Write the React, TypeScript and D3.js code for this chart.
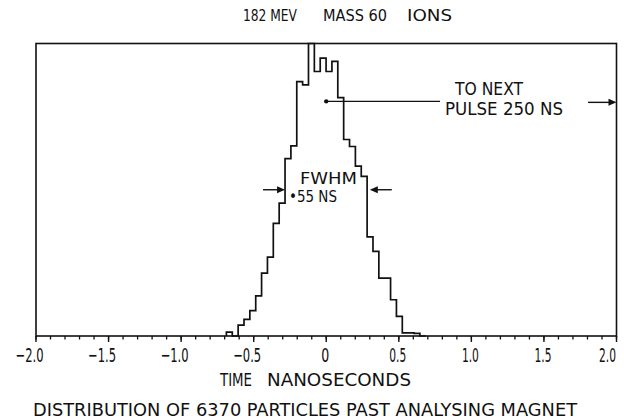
import React from "react";
import * as d3 from "d3";

// ---- data ----
const TITLE_PARTS = ["182 MEV", "MASS 60", "IONS"];
const X_LABEL_PARTS = ["TIME", "NANOSECONDS"];
const CAPTION = "DISTRIBUTION OF 6370 PARTICLES PAST ANALYSING MAGNET";
const X_TICKS = [-2, -1.5, -1, -0.5, 0, 0.5, 1, 1.5, 2];
const X_TICK_LABELS = ["−2.0", "−1.5", "−1.0", "−0.5", "0", "0.5", "1.0", "1.5", "2.0"];
const MINOR_STEP = 0.1;
const BIN_START = -0.688; // ns, left edge of first channel
const BIN_WIDTH = 0.0404; // ns per channel
const COUNTS = [
  6, 0, 17, 26, 40, 63, 99, 124, 177, 209, 279, 299, 400, 395, 460, 416, 437,
  416, 432, 375, 309, 298, 267, 251, 156, 133, 91, 91, 57, 31, 5, 5, 4, 0,
];
const Y_MAX = 460;
const FWHM = [-0.284, 0.3]; // ns, arrow tips
const FWHM_TEXT = ["FWHM", "•55 NS"];
const PULSE_TEXT = ["TO NEXT", "PULSE 250 NS"];
const PULSE_LEVEL = 369; // counts, height of "to next pulse" line
const PULSE_LINE = [0, 0.784];
const PULSE_ARROW = [1.804, 2.0];

const W = 624;
const H = 420;
const M = { left: 36, right: 616.5, top: 43.5, bottom: 336 };
const FONT = "'Liberation Sans Narrow', 'DejaVu Sans Condensed', 'Liberation Sans', sans-serif";

export default function App() {
  const x = d3.scaleLinear().domain([-2, 2]).range([M.left, M.right]);
  const y = d3.scaleLinear().domain([0, Y_MAX]).range([M.bottom, M.top]);

  const edges = COUNTS.map((_, i) => BIN_START + i * BIN_WIDTH);
  const pts: [number, number][] = [[edges[0], 0]];
  COUNTS.forEach((c, i) => {
    pts.push([edges[i], c]);
    pts.push([edges[i] + BIN_WIDTH, c]);
  });
  pts.push([edges[edges.length - 1] + BIN_WIDTH, 0]);
  const line = d3
    .line<[number, number]>()
    .x((d) => x(d[0]))
    .y((d) => y(d[1]));

  const minor = d3.range(-2, 2 + 1e-9, MINOR_STEP);
  const half = y(Y_MAX / 2);

  const arrowHead = (tipX: number, tipY: number, dir: number, len = 8, w = 3.5) =>
    `M${tipX},${tipY} L${tipX - dir * len},${tipY - w} L${tipX - dir * len},${tipY + w} Z`;

  return (
    <svg
      width={W}
      height={H}
      style={{ position: "absolute", left: 0, top: 0, background: "#fff" }}
      fontFamily={FONT}
    >
      <rect x={0} y={0} width={W} height={H} fill="#fff" />
      {/* title */}
      <g fontSize={16} fill="#111">
        <text x={243} y={21} textLength={54} lengthAdjust="spacingAndGlyphs">{TITLE_PARTS[0]}</text>
        <text x={323} y={21} textLength={64} lengthAdjust="spacingAndGlyphs">{TITLE_PARTS[1]}</text>
        <text x={407} y={21} textLength={45} lengthAdjust="spacingAndGlyphs">{TITLE_PARTS[2]}</text>
      </g>

      {/* frame */}
      <rect
        x={M.left}
        y={M.top}
        width={M.right - M.left}
        height={M.bottom - M.top}
        fill="none"
        stroke="#111"
        strokeWidth={1.6}
      />

      {/* ticks */}
      {minor.map((t, i) => (
        <line key={"m" + i} x1={x(t)} x2={x(t)} y1={M.bottom} y2={M.bottom + 3.5} stroke="#111" strokeWidth={1.3} />
      ))}
      {X_TICKS.map((t, i) => (
        <line key={"M" + i} x1={x(t)} x2={x(t)} y1={M.bottom} y2={M.bottom + 6} stroke="#111" strokeWidth={1.4} />
      ))}
      <g fontSize={20} fill="#111">
        {X_TICK_LABELS.map((lab, i) => {
          const t = X_TICKS[i];
          const neg = lab.startsWith("−");
          const num = neg ? lab.slice(1) : lab;
          const wNum = num.length > 1 ? 17 : 8;
          const wAll = neg ? wNum + 11 : wNum;
          const last = i === X_TICK_LABELS.length - 1;
          const cx = x(t) - 1;
          const ax = last ? W - 8 : neg ? cx + wNum / 2 : cx;
          return (
            <text
              key={"l" + i}
              x={ax}
              y={362}
              textAnchor={last || neg ? "end" : "middle"}
              textLength={wAll}
              lengthAdjust="spacingAndGlyphs"
            >
              {lab}
            </text>
          );
        })}
      </g>

      {/* histogram */}
      <path d={line(pts) || ""} fill="none" stroke="#111" strokeWidth={1.7} strokeLinejoin="miter" />

      {/* FWHM annotation */}
      <line x1={x(FWHM[0]) - 22} x2={x(FWHM[0]) - 6} y1={half} y2={half} stroke="#111" strokeWidth={1.4} />
      <path d={arrowHead(x(FWHM[0]), half, 1)} fill="#111" />
      <line x1={x(FWHM[1]) + 22} x2={x(FWHM[1]) + 6} y1={half} y2={half} stroke="#111" strokeWidth={1.4} />
      <path d={arrowHead(x(FWHM[1]), half, -1)} fill="#111" />
      <g fontSize={16.5} fill="#111">
        <text x={300} y={183.5} textLength={57} lengthAdjust="spacingAndGlyphs">{FWHM_TEXT[0]}</text>
        <text x={289} y={201.5} textLength={48} lengthAdjust="spacingAndGlyphs">{FWHM_TEXT[1]}</text>
      </g>

      {/* next pulse annotation */}
      <circle cx={x(PULSE_LINE[0])} cy={y(PULSE_LEVEL)} r={2.2} fill="#111" />
      <line
        x1={x(PULSE_LINE[0])}
        x2={x(PULSE_LINE[1])}
        y1={y(PULSE_LEVEL)}
        y2={y(PULSE_LEVEL)}
        stroke="#111"
        strokeWidth={1.4}
      />
      <line
        x1={x(PULSE_ARROW[0])}
        x2={x(PULSE_ARROW[1]) - 6}
        y1={y(PULSE_LEVEL) + 1}
        y2={y(PULSE_LEVEL) + 1}
        stroke="#111"
        strokeWidth={1.4}
      />
      <path d={arrowHead(x(PULSE_ARROW[1]), y(PULSE_LEVEL) + 1, 1)} fill="#111" />
      <g fontSize={18} fill="#111">
        <text x={455} y={95} textLength={68} lengthAdjust="spacingAndGlyphs">{PULSE_TEXT[0]}</text>
        <text x={445} y={115} textLength={118} lengthAdjust="spacingAndGlyphs">{PULSE_TEXT[1]}</text>
      </g>

      {/* axis title and caption */}
      <g fontSize={17.5} fill="#111">
        <text x={220} y={385.5} textLength={32} lengthAdjust="spacingAndGlyphs">{X_LABEL_PARTS[0]}</text>
        <text x={267} y={385.5} textLength={144} lengthAdjust="spacingAndGlyphs">{X_LABEL_PARTS[1]}</text>
      </g>
      <text x={33} y={415.5} fontSize={18} fill="#111" textLength={544} lengthAdjust="spacingAndGlyphs">
        {CAPTION}
      </text>
    </svg>
  );
}
